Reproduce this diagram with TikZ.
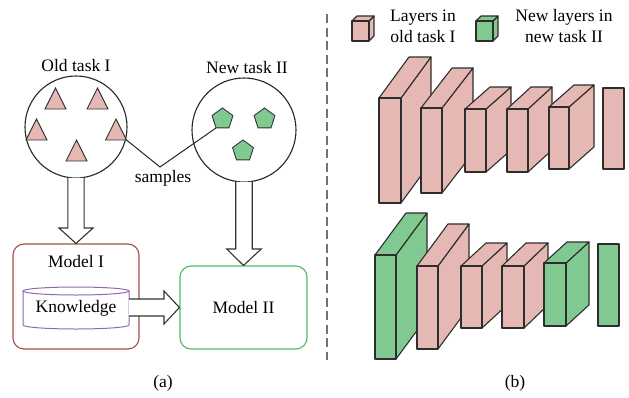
\documentclass[tikz,border=0pt]{standalone}
\usepackage{fontspec}
\setmainfont{Liberation Serif}
\usetikzlibrary{calc}
\definecolor{pinkfill}{RGB}{229,184,179}
\definecolor{greenfill}{RGB}{128,201,144}
\definecolor{redline}{RGB}{160,80,74}
\definecolor{greenline}{RGB}{70,190,100}
\definecolor{purpleline}{RGB}{145,105,170}
\definecolor{layerline}{RGB}{45,45,45}
\tikzset{
  lbl/.style={font=\fontsize{17.5}{21}\selectfont, inner sep=0pt, align=center},
  thin line/.style={line width=1.1pt, draw=black!85},
  blockarrow/.style={line width=1.1pt, draw=black!80, fill=white, line join=miter},
  layerstyle/.style={line width=1.1pt, draw=layerline, line join=round},
  shapepink/.style={line width=0.9pt, draw=black!80, fill=pinkfill},
  shapegreen/.style={line width=0.9pt, draw=black!80, fill=greenfill},
}
\newcommand\cuboid[7]{%
  \draw[layerstyle, fill=#7] (#1+#3,#2) -- ++(#5,-#6) -- ++(0,#4) -- ++(-#5,#6) -- cycle;
  \draw[layerstyle, fill=#7] (#1,#2) -- ++(#5,-#6) -- ++(#3,0) -- ++(-#5,#6) -- cycle;
  \draw[layerstyle, fill=#7] (#1,#2) rectangle ++(#3,#4);}
\newcommand\tri[2]{\draw[shapepink] (#1-10.5,#2+10.5) -- (#1,#2-10.5) -- (#1+10.5,#2+10.5) -- cycle;}
\newcommand\pent[2]{\draw[shapegreen] ($(#1,#2)+(-90:11)$) -- ($(#1,#2)+(-18:11)$) -- ($(#1,#2)+(54:11)$) -- ($(#1,#2)+(126:11)$) -- ($(#1,#2)+(198:11)$) -- cycle;}
\begin{document}
\begin{tikzpicture}[x=1pt,y=-1pt]
\useasboundingbox (0,0) rectangle (629,397);
% ---------- panel (a) ----------
\node[lbl] (oldlbl) at (76,66) {Old task I};
\node[lbl] (newlbl) at (247,68) {New task II};
\node[circle, thin line, minimum size=102pt, inner sep=0pt] (oldc) at (76,127) {};
\node[circle, thin line, minimum size=104pt, inner sep=0pt] (newc) at (244,130) {};
\tri{55.5}{98.5}
\tri{97.5}{98.5}
\tri{36.5}{129.5}
\tri{116}{129.5}
\tri{76.5}{150.5}
\pent{222.5}{119}
\pent{264.5}{119}
\pent{243}{151}
\coordinate (sA) at (126.5,140);
\coordinate (sM) at (160,167);
\coordinate (sB) at (216,128);
\draw[line width=1pt, draw=black!85] (sA) -- (sM) -- (sB);
\node[lbl] (samples) at (163,178) {samples};
% models
\node[draw=redline, line width=1.1pt, rounded corners=11pt, minimum width=126pt, minimum height=105pt] (m1) at (76,296.5) {};
\node[lbl] (m1lbl) at (76,262) {Model I};
\node[draw=greenline, line width=1.1pt, rounded corners=11pt, minimum width=127pt, minimum height=83pt] (m2) at (243.5,307.5) {};
\node[lbl] (m2lbl) at (243.5,307.5) {Model II};
% cylinder
\draw[draw=purpleline, line width=1pt, fill=white] (23,291) -- (23,325) arc (180:0:53 and 4) -- (129,291);
\draw[draw=purpleline, line width=1pt] (76,291) ellipse (53 and 4);
\node[lbl] (know) at (76,308) {Knowledge};
% block arrows
\coordinate (ya) at (0,228);
\coordinate (yb) at (0,249);
\draw[blockarrow] (oldc.-99) -- (oldc.-99 |- ya) -- ++(-9,0) -- (m1.north) -- ($(oldc.-81 |- ya)+(9,0)$) -- (oldc.-81 |- ya) -- (oldc.-81);
\draw[blockarrow] (newc.-99) -- (newc.-99 |- yb) -- ++(-9,0) -- (m2.north) -- ($(newc.-81 |- yb)+(9,0)$) -- (newc.-81 |- yb) -- (newc.-81);
\draw[blockarrow] (129,299) -- (164,299) -- (164,291) -- (m2.west) -- (164,324) -- (164,316) -- (129,316);
\node[lbl] (alabel) at (163,383) {(a)};
% divider
\coordinate (dtop) at (327,14);
\coordinate (dbot) at (327,360);
\draw[draw=black!55, line width=1.3pt, dash pattern=on 9pt off 4.5pt] (dtop) -- (dbot);
% ---------- panel (b) ----------
\cuboid{352}{21}{17}{20}{5}{5}{pinkfill}
\node[lbl] (leg1) at (423,26) {Layers in\\old task I};
\cuboid{476}{21}{17}{20}{5}{5}{greenfill}
\node[lbl] (leg2) at (564,26) {New layers in\\new task II};
% top row
\cuboid{379}{98}{22}{105}{30}{41}{pinkfill}
\cuboid{421}{108}{21}{85}{31}{40}{pinkfill}
\cuboid{465}{109}{21}{63}{25}{22}{pinkfill}
\cuboid{507}{109}{21}{63}{24}{22}{pinkfill}
\cuboid{549}{107}{20}{62}{25}{22}{pinkfill}
\draw[layerstyle, fill=pinkfill] (603,88) rectangle (624,169);
% bottom row
\cuboid{375}{255}{21}{104}{31}{42}{greenfill}
\cuboid{417}{266}{21}{83}{31}{42}{pinkfill}
\cuboid{461}{266}{21}{62}{25}{23}{pinkfill}
\cuboid{502}{266}{22}{62}{24}{23}{pinkfill}
\cuboid{544}{263}{22}{63}{23}{21}{greenfill}
\draw[layerstyle, fill=greenfill] (598,244) rectangle (619,326);
\node[lbl] (blabel) at (515,383) {(b)};
\end{tikzpicture}
\end{document}
